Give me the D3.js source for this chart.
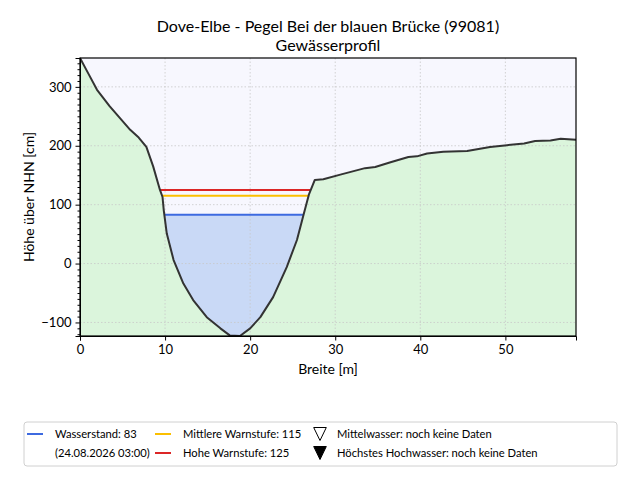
<!DOCTYPE html>
<html>
<head>
<meta charset="utf-8">
<script src="https://cdn.jsdelivr.net/npm/d3@7"></script>
<style>
  body { margin: 0; background: #fff; }
  text { font-family: Lato, "Open Sans", sans-serif; fill: #000; }
</style>
</head>
<body>
<div id="chart"></div>
<script>
// profile of the river bed (Breite in m, Höhe in cm)
var profileX = [0, 1.0, 2.0, 3.5, 4.7, 5.9, 6.9, 7.8, 8.6, 9.4, 9.7, 9.85, 10.2, 11.0, 12.15, 13.3, 14.9, 16.5, 17.6, 18.8, 20.0, 21.2, 22.7, 24.3, 25.5, 26.3, 26.9, 27.6, 28.6, 30.6, 33.5, 34.7, 36.5, 38.6, 39.6, 40.8, 42.7, 45.5, 48.2, 50.2, 52.2, 53.5, 55.3, 56.5, 58.3];
var profileY = [349, 322, 295, 267, 247, 227, 214, 198, 165, 125, 113, 90, 51, 6, -34, -62, -91, -110, -122, -123, -110, -91, -57, -6, 40, 84, 117, 142, 143, 151, 162, 164, 172, 181, 182, 187, 190, 191, 198, 201, 204, 208, 209, 212, 210];

var levelNames = ["Wasserstand", "Mittlere Warnstufe", "Hohe Warnstufe"];
var levelValues = [83, 115, 125];
var levelColors = ["#3d6ae0", "#fbbf00", "#dc2626"];

var titleLines = ["Dove-Elbe - Pegel Bei der blauen Brücke (99081)", "Gewässerprofil"];
var xTicks = [0, 10, 20, 30, 40, 50];
var yTicks = [-100, 0, 100, 200, 300];
var timeLabel = "(24.08.2026 03:00)";

var width = 640, height = 480;
var margin = {top: 58, right: 64, bottom: 144, left: 80};
var w = width - margin.left - margin.right,
    h = height - margin.top - margin.bottom;

var profile = profileX.map(function(x, i){ return {x: x, y: profileY[i]}; });

var svg = d3.select("#chart").append("svg")
    .attr("width", width)
    .attr("height", height);

var g = svg.append("g")
    .attr("transform", "translate(" + margin.left + "," + margin.top + ")");

var x = d3.scaleLinear().domain(d3.extent(profileX)).range([0, w]);
var y = d3.scaleLinear().domain(d3.extent(profileY)).range([h, 0]);

// background (air)
g.append("rect").attr("width", w).attr("height", h).attr("fill", "#f7f7fe");

// ground
var ground = d3.area()
    .x(function(d){ return x(d.x); })
    .y0(h)
    .y1(function(d){ return y(d.y); });
g.append("path").datum(profile).attr("d", ground).attr("fill", "#dbf5dc");

// find where a level crosses the bank on both sides of the deepest point
function crossings(level) {
    var iMin = d3.minIndex(profileY);
    var left = null, right = null, i;
    for (i = iMin; i > 0; i--) {
        if (profileY[i - 1] >= level) {
            var t = (level - profileY[i]) / (profileY[i - 1] - profileY[i]);
            left = {i: i, x: profileX[i] + t * (profileX[i - 1] - profileX[i])};
            break;
        }
    }
    for (i = iMin; i < profileY.length - 1; i++) {
        if (profileY[i + 1] >= level) {
            var t2 = (level - profileY[i]) / (profileY[i + 1] - profileY[i]);
            right = {i: i, x: profileX[i] + t2 * (profileX[i + 1] - profileX[i])};
            break;
        }
    }
    return {left: left, right: right};
}

// water body
var wl = levelValues[0];
var c = crossings(wl);
var water = [{x: c.left.x, y: wl}].concat(profile.slice(c.left.i, c.right.i + 1)).concat([{x: c.right.x, y: wl}]);
g.append("path").datum(water)
    .attr("fill", "#c9d9f6")
    .attr("d", d3.area()
        .x(function(d){ return x(d.x); })
        .y0(y(wl))
        .y1(function(d){ return y(d.y); }));

// grid
g.selectAll(".gx").data(xTicks).enter().append("line")
    .attr("x1", function(d){ return x(d); }).attr("x2", function(d){ return x(d); })
    .attr("y1", 0).attr("y2", h)
    .attr("stroke", "#c8c8c8").attr("stroke-width", 0.8).attr("stroke-dasharray", "1.5,2");
g.selectAll(".gy").data(yTicks).enter().append("line")
    .attr("y1", function(d){ return y(d); }).attr("y2", function(d){ return y(d); })
    .attr("x1", 0).attr("x2", w)
    .attr("stroke", "#c8c8c8").attr("stroke-width", 0.8).attr("stroke-dasharray", "1.5,2");

// level lines
levelValues.forEach(function(v, i){
    var cr = crossings(v);
    g.append("line")
        .attr("x1", x(cr.left.x)).attr("x2", x(cr.right.x))
        .attr("y1", y(v)).attr("y2", y(v))
        .attr("stroke", levelColors[i]).attr("stroke-width", 2);
});

// profile line
g.append("path").datum(profile)
    .attr("fill", "none")
    .attr("stroke", "#333")
    .attr("stroke-width", 2)
    .attr("stroke-linejoin", "round")
    .attr("d", d3.line().x(function(d){ return x(d.x); }).y(function(d){ return y(d.y); }));

// axes
var xAxis = g.append("g").attr("transform", "translate(0," + h + ")")
    .call(d3.axisBottom(x).tickValues(xTicks).tickSize(4.5).tickPadding(4).tickFormat(d3.format("d")));
var yAxis = g.append("g")
    .call(d3.axisLeft(y).tickValues(yTicks).tickSize(4.5).tickPadding(4).tickFormat(function(d){ return d < 0 ? "\u2212" + Math.abs(d) : d; }));
var minor = d3.range(-120, 350, 10).filter(function(d){ return d % 100 !== 0; });
g.append("g").call(d3.axisLeft(y).tickValues(minor).tickSize(2.5).tickFormat(""))
    .select(".domain").remove();
[xAxis, yAxis].forEach(function(a){
    a.selectAll("text").style("font-size", "13px").style("font-family", "Lato, sans-serif");
});
g.selectAll(".tick line").attr("stroke", "#000").attr("stroke-width", 1);

// frame
g.append("rect").attr("width", w).attr("height", h)
    .attr("fill", "none").attr("stroke", "#000").attr("stroke-width", 1.2);

// titles and labels
svg.selectAll(".title").data(titleLines).enter().append("text")
    .attr("x", margin.left + w / 2)
    .attr("y", function(d, i){ return 32 + i * 18.5; })
    .attr("text-anchor", "middle")
    .style("font-size", "16px")
    .text(function(d){ return d; });

svg.append("text")
    .attr("x", margin.left + w / 2).attr("y", 374)
    .attr("text-anchor", "middle").style("font-size", "14px")
    .text("Breite [m]");

svg.append("text")
    .attr("transform", "translate(34," + (margin.top + h / 2) + ") rotate(-90)")
    .attr("text-anchor", "middle").style("font-size", "14px")
    .text("Höhe über NHN [cm]");

// legend
var leg = svg.append("g").attr("transform", "translate(24,422)");
leg.append("rect").attr("width", 593).attr("height", 44).attr("rx", 3)
    .attr("fill", "#fff").attr("stroke", "#d0d0d0");

var rows = [12, 31];
var items = [
    {col: 0, row: 0, color: levelColors[0], label: levelNames[0] + ": " + levelValues[0]},
    {col: 0, row: 1, color: null, label: timeLabel},
    {col: 1, row: 0, color: levelColors[1], label: levelNames[1] + ": " + levelValues[1]},
    {col: 1, row: 1, color: levelColors[2], label: levelNames[2] + ": " + levelValues[2]}
];
var cols = [3, 131];
items.forEach(function(it){
    var cx = cols[it.col], cy = rows[it.row];
    if (it.color) {
        leg.append("line").attr("x1", cx).attr("x2", cx + 16).attr("y1", cy).attr("y2", cy)
            .attr("stroke", it.color).attr("stroke-width", 2);
    }
    leg.append("text").attr("x", cx + 28).attr("y", cy).attr("dy", "0.35em")
        .style("font-size", "11.2px").text(it.label);
});

// downward triangle like matplotlib's "v" marker
var tri = "M-6.3,-6.5L6.3,-6.5L0,6.5Z";
var markers = [
    {row: 0, fill: "#fff", label: "Mittelwasser: noch keine Daten"},
    {row: 1, fill: "#000", label: "Höchstes Hochwasser: noch keine Daten"}
];
markers.forEach(function(m){
    var cy = rows[m.row];
    leg.append("path").attr("d", tri)
        .attr("transform", "translate(296," + cy + ")")
        .attr("fill", m.fill).attr("stroke", "#000").attr("stroke-width", 1);
    leg.append("text").attr("x", 313).attr("y", cy).attr("dy", "0.35em")
        .style("font-size", "11.2px").text(m.label);
});
</script>
</body>
</html>
